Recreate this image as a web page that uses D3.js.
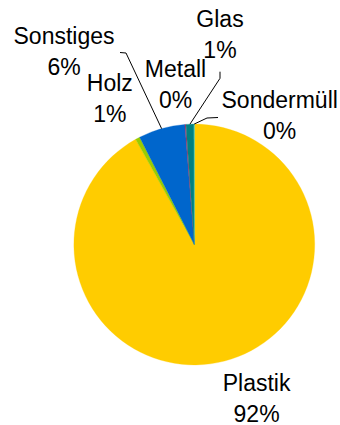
<!DOCTYPE html>
<html>
<head>
<meta charset="utf-8">
<script src="https://cdn.jsdelivr.net/npm/d3@7"></script>
<style>
  html, body { margin: 0; padding: 0; background: #fff; }
  svg { display: block; }
  text { font-family: "Liberation Sans", Arial, sans-serif; font-size: 23px; fill: #000; }
</style>
</head>
<body>
<svg id="chart" width="340" height="425"></svg>
<script>
// Waste composition shares (percent), clockwise from 12 o'clock
const categories = ["Plastik", "Holz", "Sonstiges", "Metall", "Glas", "Sondermüll"];
const shares = [91.9, 0.6, 6.25, 0.15, 1.05, 0.05];
const colors = ["#FFCC00", "#99CC00", "#0066CC", "#993366", "#008080", "#33CCCC"];

const W = 340, H = 425;
const cx = 194.3, cy = 244.5, R = 120.4;

// label placement: centre x and first baseline, relative to the pie centre
const labelLayout = {
  "Plastik":    { dx: 62.3,  dy: 146.2 },
  "Holz":       { dx: -84.5, dy: -153.8 },
  "Sonstiges":  { dx: -130.3, dy: -200.5 },
  "Metall":     { dx: -18.8, dy: -167.8 },
  "Glas":       { dx: 25.7,  dy: -217.2 },
  "Sondermüll": { dx: 85.4,  dy: -136.2 }
};
const lineGap = 30.8;

// leader lines: label-side bend points (relative to centre), ending on the slice's outer arc
const leaders = {
  "Sonstiges":  [[-74.3, -192], [-68.3, -191.5]],
  "Glas":       [[25.7, -172.8], [25.7, -166.2]],
  "Sondermüll": [[23.7, -127], [12.7, -126.5]]
};

const svg = d3.select("#chart");
const g = svg.append("g").attr("transform", `translate(${cx},${cy})`);

const total = d3.sum(shares);
const data = categories.map((c, i) => ({ name: c, value: shares[i], color: colors[i] }));

const pie = d3.pie().sort(null).value(d => d.value).startAngle(0).endAngle(2 * Math.PI);
const arc = d3.arc().innerRadius(0).outerRadius(R);
const arcs = pie(data);

g.selectAll("path.slice")
  .data(arcs)
  .join("path")
  .attr("class", "slice")
  .attr("d", arc)
  .attr("fill", d => d.data.color)
  .attr("stroke", d => d.data.color)
  .attr("stroke-width", 0.3);

const pct = d3.format(".0%");

// leader lines
arcs.forEach(a => {
  const pts = leaders[a.data.name];
  if (!pts) return;
  const mid = (a.startAngle + a.endAngle) / 2;
  const end = [Math.sin(mid) * R, -Math.cos(mid) * R];
  g.append("polyline")
    .attr("points", [...pts, end].map(p => p.join(",")).join(" "))
    .attr("fill", "none")
    .attr("stroke", "#000")
    .attr("stroke-width", 1);
});

// two-line labels: name and rounded share
arcs.forEach(a => {
  const L = labelLayout[a.data.name];
  const t = g.append("text").attr("text-anchor", "middle");
  t.append("tspan").attr("x", L.dx).attr("y", L.dy).text(a.data.name);
  t.append("tspan").attr("x", L.dx).attr("y", L.dy + lineGap).text(pct(a.data.value / total));
});
</script>
</body>
</html>
